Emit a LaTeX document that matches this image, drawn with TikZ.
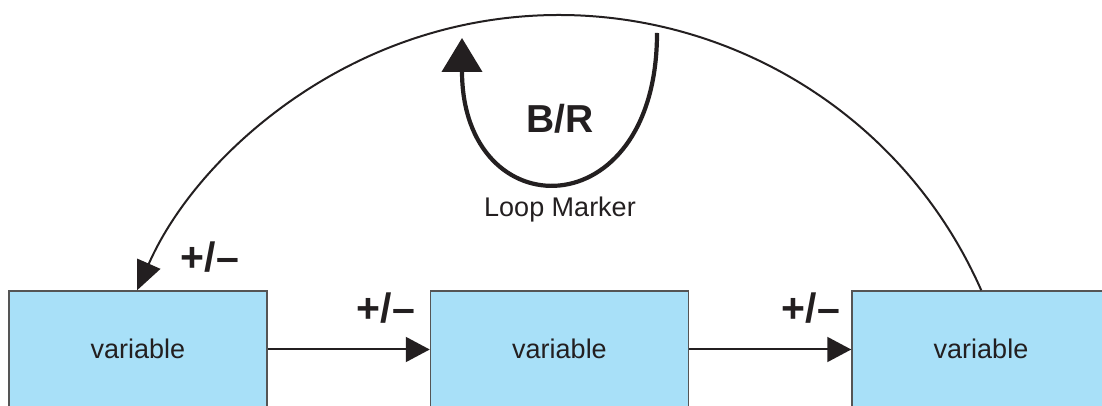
\documentclass[tikz,border=0pt]{standalone}
\usepackage{fontspec}
\setmainfont{Liberation Sans}
\usetikzlibrary{arrows.meta,calc}
\definecolor{boxfill}{RGB}{168,224,248}
\definecolor{boxline}{RGB}{85,85,85}
\definecolor{ink}{RGB}{35,31,32}
\begin{document}
\begin{tikzpicture}[x=1pt,y=1pt,
  varbox/.style={draw=boxline,line width=1.5pt,fill=boxfill,
    minimum width=258pt,minimum height=117pt,inner sep=0pt,
    text=ink,font=\fontsize{27}{30}\selectfont},
  link/.style={draw=ink,line width=2pt,-{Triangle[length=24pt,width=25pt]}},
  polarity/.style={text=ink,font=\fontsize{41}{43}\selectfont\bfseries},
  loopline/.style={draw=ink,line width=4.2pt,-{Triangle[length=34pt,width=40pt]}}]
\useasboundingbox (0,0) rectangle (1102,406);
\clip (0,0) rectangle (1102,406);

% variables
\node[varbox] (v1) at (138,56.5) {\raisebox{2pt}{variable}};
\node[varbox] (v2) at (559.5,56.5) {\raisebox{2pt}{variable}};
\node[varbox] (v3) at (981,56.5) {\raisebox{2pt}{variable}};

% causal links
\draw[link] (v1.east) -- (v2.west);
\draw[link] (v2.east) -- (v3.west);

% feedback arc from the last variable back to the first
\coordinate (arcR) at ($(v3.north west)+(130,0)$);
\draw[draw=ink,line width=2pt,-{Triangle[length=29pt,width=25pt]}]
  (arcR) arc[start angle=23.8,end angle=156.2,radius=461.3];

% polarity labels
\node[polarity] (p1) at (210,149) {+/–};
\node[polarity] (p2) at (386,98) {+/–};
\node[polarity] (p3) at (811,98) {+/–};

% loop marker
\coordinate (lmR) at (657,373);
\coordinate (lmL) at (462,368);
\draw[loopline] (lmR) .. controls (657,176) and (462,176) .. (lmL);
\node[text=ink,font=\fontsize{39}{41}\selectfont\bfseries] (br) at (560,287) {B/R};
\node[text=ink,font=\fontsize{27}{30}\selectfont] (lm) at (560,196) {Loop Marker};
\end{tikzpicture}
\end{document}
